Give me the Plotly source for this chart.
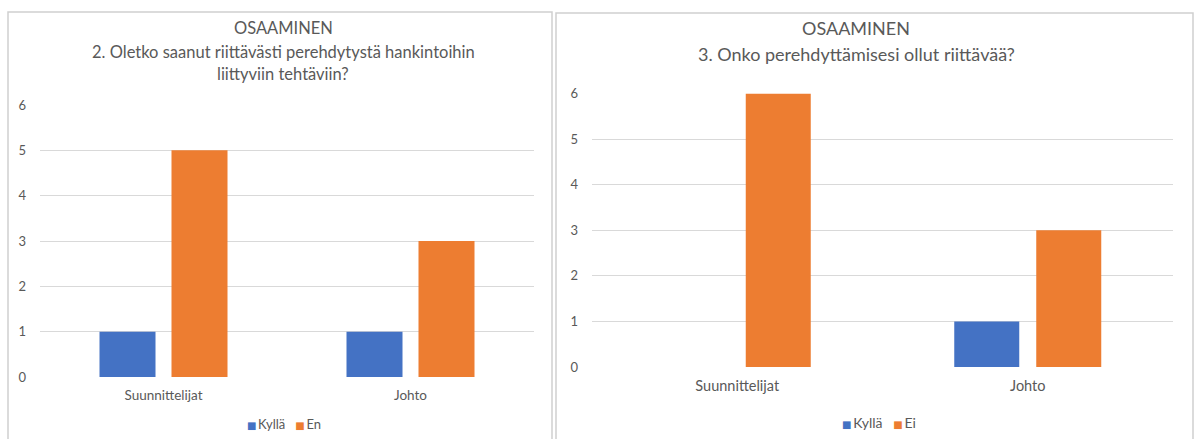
import plotly.graph_objects as go

W, H = 1197, 439

categories = ["Suunnittelijat", "Johto"]
q2_kylla = [1, 1]
q2_en = [5, 3]
q3_kylla = [0, 1]
q3_ei = [6, 3]
y_ticks = [0, 1, 2, 3, 4, 5, 6]

title_left = ["OSAAMINEN", "2. Oletko saanut riittävästi perehdytystä hankintoihin", "liittyviin tehtäviin?"]
title_right = ["OSAAMINEN", "3. Onko perehdyttämisesi ollut riittävää?"]
legend_left = ["Kyllä", "En"]
legend_right = ["Kyllä", "Ei"]

BLUE = "#4472C4"
ORANGE = "#ED7D31"
GRID = "#D9D9D9"
TXT = "#595959"
FONT = "Lato"


def px(x):
    return x / W


def py(y):
    return 1 - y / H


fig = go.Figure()

# left chart
wl = 56 / 247
fig.add_trace(go.Bar(x=categories, y=q2_kylla, name=legend_left[0], marker=dict(color=BLUE, line_width=0),
                     width=wl, offset=-64 / 247, xaxis="x", yaxis="y", showlegend=False))
fig.add_trace(go.Bar(x=categories, y=q2_en, name=legend_left[1], marker=dict(color=ORANGE, line_width=0),
                     width=wl, offset=8 / 247, xaxis="x", yaxis="y", showlegend=False))
# right chart
wr = 65 / 290.5
fig.add_trace(go.Bar(x=categories, y=q3_kylla, name=legend_right[0], marker=dict(color=BLUE, line_width=0),
                     width=wr, offset=-73.5 / 290.5, xaxis="x2", yaxis="y2", showlegend=False))
fig.add_trace(go.Bar(x=categories, y=q3_ei, name=legend_right[1], marker=dict(color=ORANGE, line_width=0),
                     width=wr, offset=8.5 / 290.5, xaxis="x2", yaxis="y2", showlegend=False))

yax = dict(range=[0, 6], tickvals=y_ticks, showgrid=True, gridcolor=GRID, gridwidth=1,
           zeroline=False, showline=False, ticks="", ticklabelstandoff=13, automargin=False,
           tickfont=dict(family=FONT, size=13, color=TXT), fixedrange=True)
xax = dict(type="category", range=[-0.5, 1.5], showgrid=False, zeroline=False, showline=False,
           ticks="", ticklabelstandoff=8, automargin=False)

shapes = [
    dict(type="rect", xref="paper", yref="paper", x0=px(8), x1=px(552), y0=py(460), y1=py(12),
         line=dict(color="#D0D0D0", width=1.5), fillcolor="rgba(0,0,0,0)", layer="below"),
    dict(type="rect", xref="paper", yref="paper", x0=px(556), x1=px(1193), y0=py(460), y1=py(13),
         line=dict(color="#D0D0D0", width=1.5), fillcolor="rgba(0,0,0,0)", layer="below"),
]

annotations = []
for t, yy in zip(title_left, [28, 52, 74]):
    annotations.append(dict(text=t, xref="paper", yref="paper", x=px(283), y=py(yy),
                            xanchor="center", yanchor="middle", showarrow=False,
                            font=dict(family=FONT, size=16.5, color=TXT)))
for t, yy in zip(title_right, [28, 54]):
    annotations.append(dict(text=t, xref="paper", yref="paper", x=px(856), y=py(yy),
                            xanchor="center", yanchor="middle", showarrow=False,
                            font=dict(family=FONT, size=18, color=TXT)))


def legend_text(names):
    sq = '<span style="color:{c};font-size:10px;font-family:DejaVu Sans">■</span>'
    return (sq.format(c=BLUE) + "\u2009" + names[0] + "\u00a0\u00a0\u00a0"
            + sq.format(c=ORANGE) + "\u2009" + names[1])


annotations.append(dict(text=legend_text(legend_left), xref="paper", yref="paper", x=px(284), y=py(424),
                        xanchor="center", yanchor="middle", showarrow=False,
                        font=dict(family=FONT, size=13, color=TXT)))
annotations.append(dict(text=legend_text(legend_right), xref="paper", yref="paper", x=px(879), y=py(422),
                        xanchor="center", yanchor="middle", showarrow=False,
                        font=dict(family=FONT, size=14, color=TXT)))

fig.update_layout(
    width=W, height=H, margin=dict(l=0, r=0, t=0, b=0, autoexpand=False),
    paper_bgcolor="white", plot_bgcolor="white",
    barmode="overlay", showlegend=False,
    xaxis=dict(domain=[px(40), px(534)], anchor="y", tickfont=dict(family=FONT, size=13.5, color=TXT), **xax),
    yaxis=dict(domain=[py(377), py(105)], anchor="x", **yax),
    xaxis2=dict(domain=[px(592), px(1173)], anchor="y2", tickfont=dict(family=FONT, size=14.5, color=TXT), **xax),
    yaxis2=dict(domain=[py(367), py(93.5)], anchor="x2", **yax),
    shapes=shapes, annotations=annotations,
    font=dict(family=FONT, color=TXT),
)

fig.write_html("out.html")
